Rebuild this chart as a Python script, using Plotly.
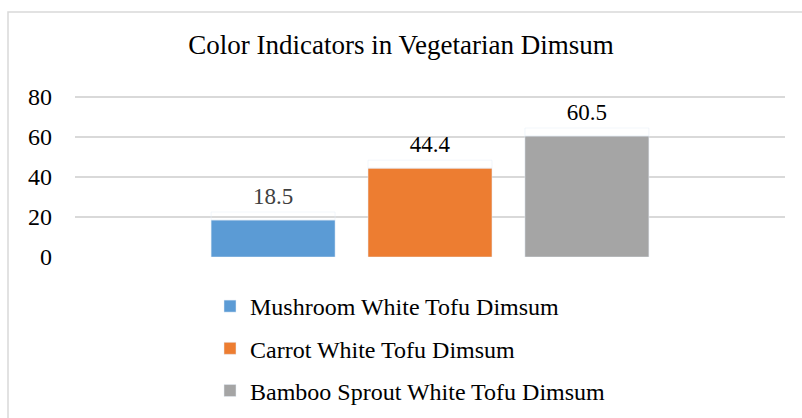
import plotly.graph_objects as go

series_names = ["Mushroom White Tofu Dimsum", "Carrot White Tofu Dimsum", "Bamboo Sprout White Tofu Dimsum"]
series_values = [18.5, 44.4, 60.5]
series_colors = ["#5b9bd5", "#ed7d31", "#a5a5a5"]
label_colors = ["#404040", "#000000", "#000000"]
category = ["Color"]
tick_vals = [0, 20, 40, 60, 80]
title_text = "Color Indicators in Vegetarian Dimsum"

FONT = "Liberation Serif"
LABEL_PAD = 4  # axis units of empty space between bar top and its value label

fig = go.Figure()
for i, (name, val, col) in enumerate(zip(series_names, series_values, series_colors)):
    fig.add_trace(go.Bar(
        x=category, y=[val], name=name, marker_color=col,
        offsetgroup=str(i), legendgroup=f"g{i}", hoverinfo="name+y",
    ))
for i, val in enumerate(series_values):
    # transparent spacer carrying the value label a little above the bar
    fig.add_trace(go.Bar(
        x=category, y=[LABEL_PAD], base=[val], offsetgroup=str(i),
        marker=dict(color="rgba(0,0,0,0)"), showlegend=False, hoverinfo="skip",
        text=[f"{val:.1f}"], textposition="outside",
        textfont=dict(family=FONT, size=23, color=label_colors[i]),
        cliponaxis=False,
    ))

W, H = 802, 418
L, R, T, B = 75, 17, 95, 161
PW, PH = W - L - R, H - T - B

fig.update_layout(
    width=W, height=H,
    margin=dict(l=L, r=R, t=T, b=B, pad=0, autoexpand=False),
    paper_bgcolor="white", plot_bgcolor="white",
    barmode="group", bargap=0.337, bargroupgap=0.21,
    font=dict(family=FONT, size=24, color="#000000"),
    title=dict(text=title_text, x=0.5, xref="container", xanchor="center",
               y=1 - 45 / H, yref="container", yanchor="middle",
               font=dict(family=FONT, size=27, color="#000000")),
    showlegend=True,
    legend=dict(orientation="v", xref="container", yref="container",
                x=210 / W, xanchor="left", y=1 - 284 / H, yanchor="top",
                font=dict(family=FONT, size=24, color="#000000"),
                tracegroupgap=8, bgcolor="rgba(0,0,0,0)"),
    xaxis=dict(showticklabels=False, showgrid=False, zeroline=False, showline=False),
    yaxis=dict(range=[0, 81], tickvals=tick_vals, showgrid=True, gridcolor="#d9d9d9",
               gridwidth=1.5, zeroline=False, showline=False, ticks="",
               tickfont=dict(family=FONT, size=24, color="#000000"), ticklabelstandoff=22),
    shapes=[dict(type="rect", xref="paper", yref="paper",
                 x0=(8 - L) / PW, x1=(815 - L) / PW,
                 y0=(H - B - 430) / PH, y1=(H - B - 12) / PH,
                 line=dict(color="#d9d9d9", width=1.5), fillcolor="rgba(0,0,0,0)", layer="below")],
)

fig.write_html("out.html", config={"displayModeBar": False},
               post_script="document.body.style.margin='0';")
